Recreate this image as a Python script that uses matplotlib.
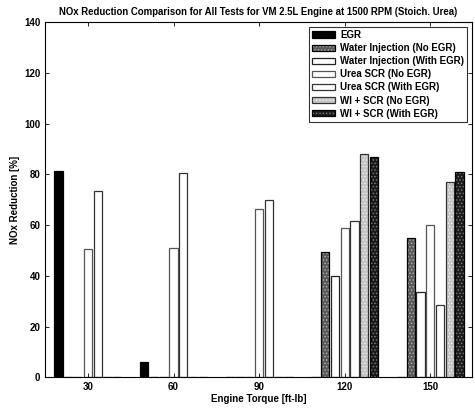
import numpy as np
import matplotlib.pyplot as plt
from matplotlib.legend_handler import HandlerTuple

plt.rcParams['font.family'] = ['Liberation Sans', 'DejaVu Sans']
plt.rcParams['font.weight'] = 'bold'
plt.rcParams['hatch.linewidth'] = 0.6

torque = [30, 60, 90, 120, 150]
series_names = ['EGR', 'Water Injection (No EGR)', 'Water Injection (With EGR)',
                'Urea SCR (No EGR)', 'Urea SCR (With EGR)',
                'WI + SCR (No EGR)', 'WI + SCR (With EGR)']
egr = [81.5, 6, 0, 0, 0]
wi_no_egr = [0, 0, 0, 49.5, 55]
wi_egr = [0, 0, 0, 40, 33.5]
urea_no_egr = [50.5, 51, 66.5, 59, 60]
urea_egr = [73.5, 80.5, 70, 61.5, 28.5]
wiscr_no_egr = [0, 0, 0, 88, 77]
wiscr_egr = [0, 0, 0, 87, 81]
values = [egr, wi_no_egr, wi_egr, urea_no_egr, urea_egr, wiscr_no_egr, wiscr_egr]

# face colour, stipple colour, outline colour
styles = [
    ('black', None, 'black'),
    ('#5a5a5a', '#b0b0b0', 'black'),
    ('white', None, '#222222'),
    ('white', None, '#555555'),
    ('white', None, '#333333'),
    ('#c4c4c4', '#f2f2f2', '#333333'),
    ('#1c1c1c', '#7a7a7a', 'black'),
]

fig = plt.figure(figsize=(4.75, 4.11), dpi=100)
ax = fig.add_axes([0.095, 0.082, 0.898, 0.864])

n = len(values)
slot = 24.0 / n
width = 0.85 * slot
x = np.array(torque, dtype=float)
handles = []
for i, (vals, (fc, hc, ec)) in enumerate(zip(values, styles)):
    pos = x + (i - (n - 1) / 2) * slot
    if hc is not None:
        fill = ax.bar(pos, vals, width, color=fc, edgecolor=hc, hatch='.....',
                      linewidth=0)
    else:
        fill = ax.bar(pos, vals, width, color=fc, linewidth=0)
    edge = ax.bar(pos, vals, width, fill=False, edgecolor=ec, linewidth=0.9)
    handles.append((fill, edge))

ax.set_xlim(15, 164.5)
ax.set_ylim(0, 140)
ax.set_xticks(torque)
ax.set_yticks(np.arange(0, 141, 20))
ax.tick_params(direction='in', top=True, right=True, labelsize=7, length=3,
               width=0.6)
for s in ax.spines.values():
    s.set_linewidth(0.8)

ax.set_title('NOx Reduction Comparison for All Tests for VM 2.5L Engine at 1500 RPM (Stoich. Urea)',
             fontsize=6.9, fontweight='bold', pad=5)
ax.set_xlabel('Engine Torque [ft-lb]', fontsize=7, fontweight='bold', labelpad=1)
ax.set_ylabel('NOx Reduction [%]', fontsize=7, fontweight='bold', labelpad=3)

leg = ax.legend(handles, series_names, loc='upper right', fontsize=7,
                handler_map={tuple: HandlerTuple(ndivide=1)},
                frameon=True, fancybox=False, edgecolor='black',
                borderaxespad=0.5, handlelength=2.4, handleheight=0.6,
                handletextpad=0.5, labelspacing=0.32, borderpad=0.3)
leg.get_frame().set_linewidth(0.8)

fig.savefig('out.png', dpi=100)
